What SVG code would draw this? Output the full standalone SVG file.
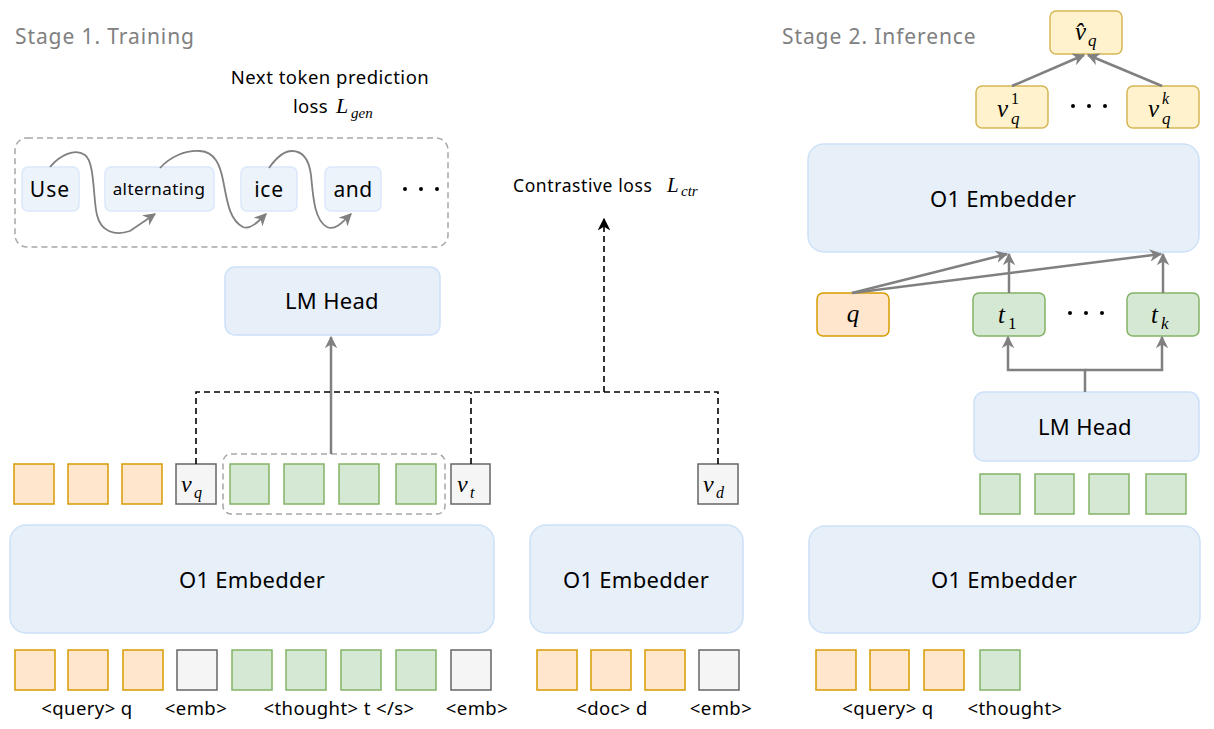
<svg xmlns="http://www.w3.org/2000/svg" width="1214" height="729" viewBox="0 0 1214 729">
<defs>
<style>
.t{font-family:"Noto Sans","Liberation Sans",sans-serif;fill:#000}
.title{font-family:"Noto Sans","Liberation Sans",sans-serif;fill:#808080;font-size:21px;letter-spacing:0.9px}
.lbl{font-size:18.5px;letter-spacing:0.4px}
.big{font-size:22px;letter-spacing:0.3px}
.m{font-family:"Liberation Serif","DejaVu Serif",serif;font-style:italic;fill:#000}
.mu{font-family:"Liberation Serif","DejaVu Serif",serif;fill:#000}
.blue{fill:#e7eff9;stroke:#cde1f8;stroke-width:1.5}
.tok{fill:#edf3fb;stroke:#dae8fc;stroke-width:1.5}
.or{fill:#ffe6cc;stroke:#d79b00;stroke-width:1.5}
.gr{fill:#d5e8d4;stroke:#82b366;stroke-width:1.5}
.gy{fill:#f5f5f5;stroke:#666666;stroke-width:1.5}
.yl{fill:#fff2cc;stroke:#d6b656;stroke-width:1.5}
.arr{fill:none;stroke:#808080;stroke-width:2.5}
.curve{fill:none;stroke:#808080;stroke-width:1.8}
.dash{fill:none;stroke:#000;stroke-width:1.6;stroke-dasharray:6 4}
.gdash{fill:none;stroke:#a6a6a6;stroke-width:1.5;stroke-dasharray:6 4}
</style>
<marker id="ag" viewBox="0 0 10 10" refX="9" refY="5" markerWidth="5" markerHeight="5" orient="auto" markerUnits="strokeWidth">
<path d="M0,0 L10,5 L0,10 L3,5 Z" fill="#808080"/>
</marker>
<marker id="agc" viewBox="0 0 10 10" refX="9" refY="5" markerWidth="7" markerHeight="7" orient="auto" markerUnits="strokeWidth">
<path d="M0,0 L10,5 L0,10 L3,5 Z" fill="#808080"/>
</marker>
<marker id="ab" viewBox="0 0 10 10" refX="9" refY="5" markerWidth="8" markerHeight="8" orient="auto" markerUnits="strokeWidth">
<path d="M0,0 L10,5 L0,10 L3,5 Z" fill="#000"/>
</marker>
</defs>
<rect width="1214" height="729" fill="#ffffff"/>

<!-- Titles -->
<text class="title" x="15" y="44">Stage 1. Training</text>
<text class="title" x="782" y="44">Stage 2. Inference</text>

<!-- Stage 1: next token prediction -->
<g id="gen-loss-label">
<text class="t" x="330" y="84" font-size="18.5" letter-spacing="0.5" text-anchor="middle">Next token prediction</text>
<text class="t" x="293" y="113" font-size="18.5" letter-spacing="0.3">loss</text>
<text class="m" x="336" y="113" font-size="22">L</text>
<text class="m" x="351" y="118" font-size="15">gen</text>
</g>
<g id="gen-box">
<rect class="gdash" x="15" y="138" width="433" height="109" rx="12"/>
</g>
<g id="tok-use"><rect class="tok" x="22" y="167" width="57" height="44" rx="6"/><text class="t" x="50" y="197" font-size="21" letter-spacing="1" text-anchor="middle">Use</text></g>
<g id="tok-alternating"><rect class="tok" x="105" y="167" width="109" height="44" rx="6"/><text class="t" x="159" y="195" font-size="17" letter-spacing="0.4" text-anchor="middle">alternating</text></g>
<g id="tok-ice"><rect class="tok" x="241" y="167" width="56" height="44" rx="6"/><text class="t" x="269" y="197" font-size="21" letter-spacing="0.8" text-anchor="middle">ice</text></g>
<g id="tok-and"><rect class="tok" x="325" y="167" width="56" height="44" rx="6"/><text class="t" x="353" y="197" font-size="21" letter-spacing="0.5" text-anchor="middle">and</text></g>
<g id="dots-1" fill="#000"><circle cx="405" cy="189" r="2"/><circle cx="421" cy="189" r="2"/><circle cx="437" cy="189" r="2"/></g>

<!-- Contrastive loss label -->
<g id="ctr-loss-label">
<text class="t" x="513" y="192" font-size="17.5" letter-spacing="0.6">Contrastive loss</text>
<text class="m" x="667" y="192" font-size="21">L</text>
<text class="m" x="681" y="196" font-size="15">ctr</text>
</g>

<!-- LM Head stage 1 -->
<g id="lmhead-1"><rect class="blue" x="225" y="267" width="215" height="68" rx="10"/><text class="t big" x="332" y="309" text-anchor="middle">LM Head</text></g>

<!-- Stage 1 token row (embeddings) -->
<g id="row1-tokens">
<rect class="or" x="14" y="464" width="40" height="40"/>
<rect class="or" x="68" y="464" width="40" height="40"/>
<rect class="or" x="122" y="464" width="40" height="40"/>
<rect class="gr" x="230" y="464" width="39" height="40"/>
<rect class="gr" x="284" y="464" width="40" height="40"/>
<rect class="gr" x="339" y="464" width="40" height="40"/>
<rect class="gr" x="396" y="464" width="40" height="40"/>
</g>
<g id="thought-group"><rect class="gdash" x="223" y="454" width="222" height="60" rx="8"/></g>
<g id="vq-node"><rect class="gy" x="176" y="464" width="40" height="40"/><text class="m" x="181" y="492" font-size="24">v</text><text class="m" x="194" y="498" font-size="16">q</text></g>
<g id="vt-node"><rect class="gy" x="451" y="464" width="39" height="40"/><text class="m" x="457" y="492" font-size="24">v</text><text class="m" x="470" y="498" font-size="16">t</text></g>
<g id="vd-node"><rect class="gy" x="698" y="464" width="40" height="40"/><text class="m" x="703" y="492" font-size="24">v</text><text class="m" x="716" y="498" font-size="16">d</text></g>

<!-- Embedders stage 1 -->
<g id="embedder-1"><rect class="blue" x="10" y="525" width="484" height="108" rx="16"/><text class="t big" x="252" y="588" text-anchor="middle">O1 Embedder</text></g>
<g id="embedder-2"><rect class="blue" x="530" y="525" width="213" height="108" rx="16"/><text class="t big" x="636" y="588" text-anchor="middle">O1 Embedder</text></g>

<!-- Stage 1 input tokens -->
<g id="input-1">
<rect class="or" x="15" y="650" width="40" height="40"/>
<rect class="or" x="68" y="650" width="40" height="40"/>
<rect class="or" x="123" y="650" width="40" height="40"/>
<rect class="gy" x="177" y="650" width="40" height="40"/>
<rect class="gr" x="232" y="650" width="40" height="40"/>
<rect class="gr" x="286" y="650" width="40" height="40"/>
<rect class="gr" x="341" y="650" width="40" height="40"/>
<rect class="gr" x="396" y="650" width="40" height="40"/>
<rect class="gy" x="451" y="650" width="40" height="40"/>
<text class="t lbl" x="87" y="715" text-anchor="middle">&lt;query&gt; q</text>
<text class="t lbl" x="196" y="715" text-anchor="middle">&lt;emb&gt;</text>
<text class="t lbl" x="339" y="715" text-anchor="middle">&lt;thought&gt; t &lt;/s&gt;</text>
<text class="t lbl" x="477" y="715" text-anchor="middle">&lt;emb&gt;</text>
</g>
<g id="input-2">
<rect class="or" x="537" y="650" width="40" height="40"/>
<rect class="or" x="591" y="650" width="40" height="40"/>
<rect class="or" x="645" y="650" width="40" height="40"/>
<rect class="gy" x="699" y="650" width="40" height="40"/>
<text class="t lbl" x="612" y="715" text-anchor="middle">&lt;doc&gt; d</text>
<text class="t lbl" x="721" y="715" text-anchor="middle">&lt;emb&gt;</text>
</g>

<!-- Stage 2 -->
<g id="vhat-node"><rect class="yl" x="1050" y="11" width="72" height="43" rx="6"/><text class="m" x="1075" y="40" font-size="25">v̂</text><text class="m" x="1088" y="46" font-size="17">q</text></g>
<g id="vq1-node"><rect class="yl" x="976" y="86" width="72" height="42" rx="6"/><text class="m" x="997" y="117" font-size="25">v</text><text class="mu" x="1011" y="104" font-size="16">1</text><text class="m" x="1011" y="124" font-size="17">q</text></g>
<g id="vqk-node"><rect class="yl" x="1127" y="86" width="72" height="42" rx="6"/><text class="m" x="1148" y="117" font-size="25">v</text><text class="m" x="1162" y="104" font-size="16">k</text><text class="m" x="1162" y="124" font-size="17">q</text></g>
<g id="dots-2" fill="#000"><circle cx="1073" cy="106" r="2"/><circle cx="1089" cy="106" r="2"/><circle cx="1105" cy="106" r="2"/></g>

<g id="embedder-3"><rect class="blue" x="808" y="144" width="391" height="108" rx="16"/><text class="t big" x="1003" y="207" text-anchor="middle">O1 Embedder</text></g>

<g id="q-node"><rect class="or" x="817" y="293" width="72" height="43" rx="6"/><text class="m" x="853" y="322" font-size="25" text-anchor="middle">q</text></g>
<g id="t1-node"><rect class="gr" x="973" y="293" width="72" height="43" rx="6"/><text class="m" x="998" y="323" font-size="25">t</text><text class="mu" x="1008" y="329" font-size="17">1</text></g>
<g id="tk-node"><rect class="gr" x="1127" y="293" width="72" height="43" rx="6"/><text class="m" x="1151" y="323" font-size="25">t</text><text class="m" x="1161" y="329" font-size="17">k</text></g>
<g id="dots-3" fill="#000"><circle cx="1070" cy="313" r="2"/><circle cx="1086" cy="313" r="2"/><circle cx="1102" cy="313" r="2"/></g>

<g id="lmhead-2"><rect class="blue" x="974" y="392" width="225" height="69" rx="10"/><text class="t big" x="1085" y="435" text-anchor="middle">LM Head</text></g>
<g id="row2-tokens">
<rect class="gr" x="980" y="474" width="40" height="40"/>
<rect class="gr" x="1035" y="474" width="39" height="40"/>
<rect class="gr" x="1089" y="474" width="40" height="40"/>
<rect class="gr" x="1146" y="474" width="40" height="40"/>
</g>
<g id="embedder-4"><rect class="blue" x="809" y="526" width="391" height="107" rx="16"/><text class="t big" x="1004" y="588" text-anchor="middle">O1 Embedder</text></g>
<g id="input-3">
<rect class="or" x="816" y="650" width="40" height="40"/>
<rect class="or" x="870" y="650" width="39" height="40"/>
<rect class="or" x="924" y="650" width="40" height="40"/>
<rect class="gr" x="980" y="650" width="40" height="40"/>
<text class="t lbl" x="888" y="715" text-anchor="middle">&lt;query&gt; q</text>
<text class="t lbl" x="1015" y="715" text-anchor="middle">&lt;thought&gt;</text>
</g>

<!-- Connectors -->
<g id="connectors">
<path class="curve" marker-end="url(#agc)" d="M50,167 C60,155 75,148 85,155 C95,162 93,200 97,215 C101,232 115,236 130,231 L155,214"/>
<path class="curve" marker-end="url(#agc)" d="M160,168 C170,157 185,150 200,151 C215,152 220,165 223,180 C227,200 229,220 243,227 C250,230 258,222 266,214"/>
<path class="curve" marker-end="url(#agc)" d="M269,168 C276,158 283,151 292,151 C303,151 309,160 311,175 C313,195 314,220 327,227 C335,231 343,222 351,214"/>

<path class="arr" marker-end="url(#ag)" d="M331,454 L331,337"/>
<path class="dash" d="M196,464 L196,392 L718,392 L718,464"/>
<path class="dash" d="M471,464 L471,392"/>
<path class="dash" marker-end="url(#ab)" d="M604,392 L604,219"/>

<path class="arr" marker-end="url(#ag)" d="M1012,86 L1084,55"/>
<path class="arr" marker-end="url(#ag)" d="M1162,86 L1088,55"/>
<path class="arr" marker-end="url(#ag)" d="M852,293 L1007,254"/>
<path class="arr" marker-end="url(#ag)" d="M852,293 L1161,254"/>
<path class="arr" marker-end="url(#ag)" d="M1009,293 L1009,254"/>
<path class="arr" marker-end="url(#ag)" d="M1163,293 L1163,254"/>
<path class="arr" marker-end="url(#ag)" d="M1085,392 L1085,370 L1008,370 L1008,337"/>
<path class="arr" marker-end="url(#ag)" d="M1085,370 L1162,370 L1162,337"/>
</g>
</svg>
